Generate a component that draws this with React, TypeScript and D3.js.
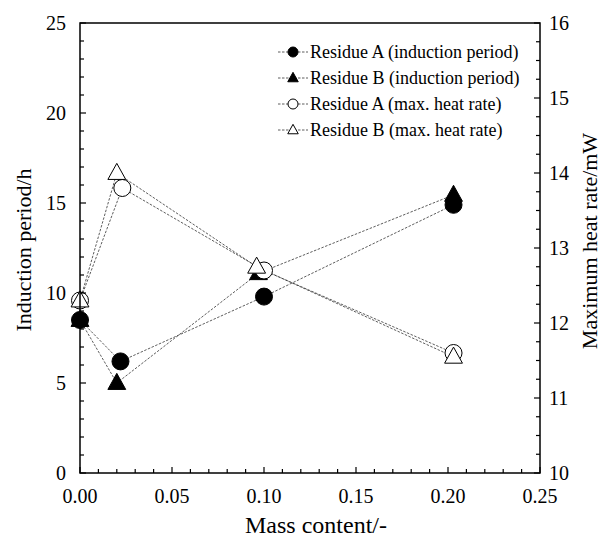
import React from "react";
import * as d3 from "d3";

const massA_ind = [0.0, 0.022, 0.1, 0.203];
const valA_ind = [8.5, 6.2, 9.8, 14.9];
const massB_ind = [0.0, 0.02, 0.097, 0.203];
const valB_ind = [8.5, 5.0, 11.1, 15.45];
const massA_heat = [0.0, 0.023, 0.1, 0.203];
const valA_heat = [12.3, 13.8, 12.7, 11.6];
const massB_heat = [0.0, 0.02, 0.096, 0.203];
const valB_heat = [12.3, 14.0, 12.75, 11.55];

const xTicks = [0, 0.05, 0.1, 0.15, 0.2, 0.25];
const yLeftTicks = [0, 5, 10, 15, 20, 25];
const yRightTicks = [10, 11, 12, 13, 14, 15, 16];
const legendLabels = [
  "Residue A (induction period)",
  "Residue B (induction period)",
  "Residue A (max. heat rate)",
  "Residue B (max. heat rate)",
];

const W = 601, H = 541;
const L = 80, R = 540, T = 23, B = 473;
const font = "Liberation Serif, Times New Roman, Times, DejaVu Serif, serif";

export default function App() {
  const x = d3.scaleLinear().domain([0, 0.25]).range([L, R]);
  const yl = d3.scaleLinear().domain([0, 25]).range([B, T]);
  const yr = d3.scaleLinear().domain([10, 16]).range([B, T]);

  const series = [
    { xs: massA_ind, ys: valA_ind, y: yl, shape: "circle", fill: "#000" },
    { xs: massB_ind, ys: valB_ind, y: yl, shape: "triangle", fill: "#000" },
    { xs: massA_heat, ys: valA_heat, y: yr, shape: "circle", fill: "#fff" },
    { xs: massB_heat, ys: valB_heat, y: yr, shape: "triangle", fill: "#fff" },
  ];

  const line = (xs: number[], ys: number[], y: any) =>
    d3.line<number>().x((_, i) => x(xs[i])).y((v) => y(v))(ys) || "";

  const tri = (cx: number, cy: number, s: number) => {
    const h = s * 0.9;
    return `M${cx},${cy - h * 0.6}L${cx + s / 2},${cy + h * 0.4}L${cx - s / 2},${cy + h * 0.4}Z`;
  };

  const marker = (shape: string, cx: number, cy: number, fill: string, key: any, r = 8.5) =>
    shape === "circle" ? (
      <circle key={key} cx={cx} cy={cy} r={r} fill={fill} stroke="#000" strokeWidth={1} />
    ) : (
      <path key={key} d={tri(cx, cy, r * 2.1)} fill={fill} stroke="#000" strokeWidth={1} />
    );

  const xMinor = d3.range(0, 0.2501, 0.01);
  const ylMinor = d3.range(0, 25.01, 1);
  const yrMinor = d3.range(10, 16.01, 0.25);

  return (
    <svg width={W} height={H} style={{ position: "absolute", left: 0, top: 0, background: "#fff", fontFamily: font }}>
      <rect x={0} y={0} width={W} height={H} fill="#fff" />
      {series.map((s, i) => (
        <path key={"l" + i} d={line(s.xs, s.ys, s.y)} fill="none" stroke="#333" strokeWidth={0.8} strokeDasharray="2.5,1.5" />
      ))}
      {series.map((s, i) => s.xs.map((xv, j) => marker(s.shape, x(xv), s.y(s.ys[j]), s.fill, `m${i}-${j}`)))}
      <rect x={L} y={T} width={R - L} height={B - T} fill="none" stroke="#000" strokeWidth={1.5} />
      {xMinor.map((v, i) => {
        const major = i % 5 === 0;
        return <line key={"xt" + i} x1={x(v)} x2={x(v)} y1={B} y2={B - (major ? 6 : 4)} stroke="#000" strokeWidth={1.2} />;
      })}
      {ylMinor.map((v, i) => {
        const major = i % 5 === 0;
        return <line key={"ylt" + i} x1={L} x2={L + (major ? 6 : 4)} y1={yl(v)} y2={yl(v)} stroke="#000" strokeWidth={1.2} />;
      })}
      {yrMinor.map((v, i) => {
        const major = i % 4 === 0;
        return <line key={"yrt" + i} x1={R} x2={R - (major ? 6 : 4)} y1={yr(v)} y2={yr(v)} stroke="#000" strokeWidth={1.2} />;
      })}
      {xTicks.map((v) => (
        <text key={"xl" + v} x={x(v)} y={B + 30} textAnchor="middle" fontFamily={font} fontSize={20}>
          {v.toFixed(2)}
        </text>
      ))}
      {yLeftTicks.map((v) => (
        <text key={"yll" + v} x={L - 14} y={yl(v)} dy="0.35em" textAnchor="end" fontFamily={font} fontSize={20}>
          {v}
        </text>
      ))}
      {yRightTicks.map((v) => (
        <text key={"yrl" + v} x={R + 9} y={yr(v)} dy="0.35em" textAnchor="start" fontFamily={font} fontSize={20}>
          {v}
        </text>
      ))}
      <text x={316} y={533} textAnchor="middle" fontFamily={font} fontSize={24}>
        Mass content/-
      </text>
      <text transform={`translate(23,250) rotate(-90)`} textAnchor="middle" fontFamily={font} fontSize={22} dy="0.35em">
        Induction period/h
      </text>
      <text transform={`translate(589,241) rotate(-90)`} textAnchor="middle" fontFamily={font} fontSize={22} dy="0.35em">
        Maximum heat rate/mW
      </text>
      {series.map((s, i) => {
        const ly = 52 + i * 26;
        return (
          <g key={"lg" + i}>
            <line x1={278} x2={308} y1={ly} y2={ly} stroke="#333" strokeWidth={0.8} strokeDasharray="2.5,1.5" />
            {marker(s.shape, 293, ly, s.fill, "lm" + i, 5)}
            <text x={310} y={ly} dy="0.35em" fontFamily={font} fontSize={18}>
              {legendLabels[i]}
            </text>
          </g>
        );
      })}
    </svg>
  );
}
